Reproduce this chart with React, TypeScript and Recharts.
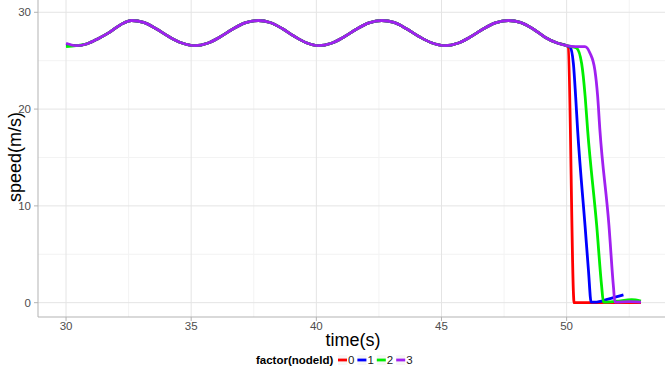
import React from 'react';
import { LineChart, Line, XAxis, YAxis, CartesianGrid } from 'recharts';

// shared cruise phase (all four nodes follow nearly the same profile)
const cruiseTime = [
  30.0, 30.4, 30.85, 31.3, 31.75, 32.2, 32.62,
  33.1, 33.6, 34.1, 34.6, 35.15,
  35.65, 36.15, 36.65, 37.15, 37.68,
  38.15, 38.65, 39.1, 39.6, 40.08,
  40.6, 41.1, 41.6, 42.1, 42.61,
  43.1, 43.6, 44.1, 44.6, 45.14,
  45.65, 46.15, 46.65, 47.15, 47.67,
  48.15, 48.65, 49.15, 49.6, 50.0,
];
const cruiseSpeed = [
  26.62, 26.55, 26.75, 27.3, 27.95, 28.75, 29.15,
  28.95, 28.3, 27.5, 26.85, 26.55,
  26.8, 27.45, 28.25, 28.9, 29.15,
  28.95, 28.3, 27.55, 26.85, 26.55,
  26.8, 27.45, 28.25, 28.9, 29.15,
  28.95, 28.3, 27.5, 26.85, 26.55,
  26.8, 27.45, 28.25, 28.9, 29.15,
  28.95, 28.3, 27.4, 26.85, 26.55,
];

const nodeIds = ['0', '1', '2', '3'];
const nodeColors = ['#ff0000', '#0000ff', '#00ee00', '#a020f0'];
const startSpeed = [26.6, 26.62, 26.45, 26.8];

// braking phase per node
const node0Time = [50.06, 50.3, 52.97];
const node0Speed = [26.45, 0, 0];
const node1Time = [50.14, 50.27, 50.36, 50.44, 50.74, 50.87, 50.98, 51.13, 51.7, 52.27];
const node1Speed = [26.4, 24.7, 21.3, 17.8, 7.8, 3.4, 0.05, 0.05, 0.4, 0.8];
const node2Time = [50.2, 50.4, 50.6, 50.74, 50.84, 51.2, 51.4, 51.47, 52.0, 52.6, 52.97];
const node2Speed = [26.45, 26.3, 24.7, 21.3, 17.8, 8.0, 1.65, 0.05, 0.15, 0.3, 0.15];
const node3Time = [50.33, 50.73, 50.93, 51.13, 51.24, 51.33, 51.69, 51.87, 51.93, 52.5, 52.97];
const node3Speed = [26.45, 26.45, 25.8, 24.0, 21.3, 17.8, 8.0, 1.65, 0.05, 0.1, 0.05];

const tailTimes = [node0Time, node1Time, node2Time, node3Time];
const tailSpeeds = [node0Speed, node1Speed, node2Speed, node3Speed];

const xTicks = [30, 35, 40, 45, 50];
const yTicks = [0, 10, 20, 30];
const xMinor = [32.5, 37.5, 42.5, 47.5, 52.5];
const yMinor = [5, 15, 25];

const series = nodeIds.map((id, i) => {
  const pts = cruiseTime.map((t, j) => ({ time: t, speed: j === 0 ? startSpeed[i] : cruiseSpeed[j] }));
  tailTimes[i].forEach((t, j) => pts.push({ time: t, speed: tailSpeeds[i][j] }));
  return { id, color: nodeColors[i], data: pts };
});

const font = 'Liberation Sans, Arial, sans-serif';
const tickStyle = { fill: '#4d4d4d', fontSize: 11.5, fontFamily: font };

export default function App() {
  return (
    <div style={{ position: 'absolute', left: 0, top: 0, width: 665, height: 375, background: '#fff' }}>
      <LineChart width={665} height={375} margin={{ top: 0, right: 0, left: 0, bottom: 38 }}>
        <CartesianGrid stroke="#f3f3f3" horizontalValues={yMinor} verticalValues={xMinor} />
        <CartesianGrid stroke="#e4e4e4" horizontalValues={yTicks} verticalValues={xTicks} />
        <XAxis
          dataKey="time"
          type="number"
          domain={[28.88, 53.93]}
          ticks={xTicks}
          allowDataOverflow
          height={20}
          tickSize={4}
          tickMargin={1}
          stroke="#b3b3b3"
          tick={tickStyle}
        />
        <YAxis
          dataKey="speed"
          type="number"
          domain={[-1.48, 31.27]}
          ticks={yTicks}
          allowDataOverflow
          width={38}
          tickSize={4}
          tickMargin={3}
          stroke="#b3b3b3"
          tick={tickStyle}
        />
        {series.map((s) => (
          <Line
            key={s.id}
            data={s.data}
            dataKey="speed"
            type="monotone"
            stroke={s.color}
            strokeWidth={2.8}
            dot={false}
            isAnimationActive={false}
          />
        ))}
      </LineChart>
      <svg width={665} height={375} style={{ position: 'absolute', left: 0, top: 0, pointerEvents: 'none' }}>
        <text x={353} y={346} textAnchor="middle" fontSize={18} fontFamily={font} fill="#000">time(s)</text>
        <text transform="translate(21,157) rotate(-90)" textAnchor="middle" fontSize={18} fontFamily={font} fill="#000">speed(m/s)</text>
        <text x={256} y={364} fontSize={11.5} fontWeight="bold" fontFamily={font} fill="#000">factor(nodeId)</text>
        {series.map((s, i) => {
          const x0 = 338 + i * 19.4;
          return (
            <g key={s.id}>
              <rect x={x0} y={355} width={9} height={10} fill="#f7f7f7" />
              <line x1={x0} x2={x0 + 9} y1={360} y2={360} stroke={s.color} strokeWidth={2.8} />
              <text x={x0 + 10} y={364} fontSize={11.5} fontFamily={font} fill="#1a1a1a">{s.id}</text>
            </g>
          );
        })}
      </svg>
    </div>
  );
}
